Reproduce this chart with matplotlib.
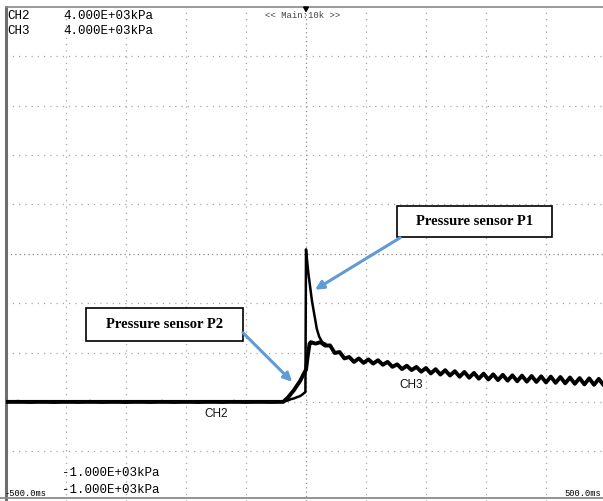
import matplotlib
matplotlib.use("Agg")
import matplotlib.pyplot as plt
from matplotlib.patches import Rectangle, Polygon
from matplotlib.lines import Line2D

# ---------------- data (ms, kPa) ----------------
ch2_t = [-500, -480, -460, -440, -420, -400, -380, -360, -340, -320, -300, -280,
         -260, -240, -220, -200, -180, -160, -140, -120, -100, -80, -60, -40,
         -36, -30, -25, -20, -15, -10, -6, -3, -1, 0, 2, 4, 7, 10, 14, 18, 22, 27, 32]
ch2_v = [0, 8, -6, 7, -8, 6, -5, 8, -7, 6, -8, 7,
         -6, 8, -7, 6, -8, 7, -6, 8, -7, 6, -5, 4,
         5, 15, 28, 35, 48, 58, 75, 90, 100, 1545, 1420, 1300, 1160, 1020, 880, 740, 660, 605, 590]

ch3_t = [-500, -38, -30, -20, -10, -2, 0, 3, 6,
         8, 16, 24, 32, 40, 48, 56, 64, 72, 80, 88, 96, 104, 112, 120, 128, 136,
         144, 152, 160, 168, 176, 184, 192, 200, 208, 216, 224, 232, 240, 248, 256,
         264, 272, 280, 288, 296, 304, 312, 320, 328, 336, 344, 352, 360, 368, 376,
         384, 392, 400, 408, 416, 424, 432, 440, 448, 456, 464, 472, 480, 488, 496, 500]
ch3_v = [0, 0, 45, 120, 210, 305, 325, 470, 590,
         605, 590, 605, 570, 572, 495, 505, 440, 455, 405, 440, 395, 430, 388, 422, 376, 405,
         355, 380, 332, 366, 322, 354, 306, 343, 288, 331, 277, 321, 267, 311, 255,
         303, 245, 293, 235, 286, 227, 279, 221, 274, 215, 269, 209, 266, 205, 262,
         202, 259, 197, 256, 193, 252, 188, 247, 183, 241, 177, 238, 173, 233, 169, 185]

x_min, x_max = -500, 500
y_min, y_max = -1000, 4000
x_grid = [-400, -300, -200, -100, 0, 100, 200, 300, 400]
y_grid = [-500, 0, 500, 1000, 1500, 2000, 2500, 3000, 3500]

W, H = 603, 501
fig = plt.figure(figsize=(W / 100, H / 100), dpi=100)
fig.patch.set_facecolor("white")

# axes spanning px x 6..606, y 7..500.6
ax = fig.add_axes([6 / W, 1 - 500.6 / H, 600 / W, 493.6 / H])
ax.set_xlim(x_min, x_max)
ax.set_ylim(y_min, y_max)
ax.set_xticks([])
ax.set_yticks([])
for s in ["right", "bottom"]:
    ax.spines[s].set_visible(False)
ax.spines["left"].set_color("#6e6e6e")
ax.spines["left"].set_linewidth(2.2)
ax.spines["top"].set_color("#8a8a8a")
ax.spines["top"].set_linewidth(1.2)

gcol = "#a6a6a6"
for xv in x_grid:
    if xv == 0:
        ax.axvline(xv, color="#8a8a8a", lw=0.9, ls=(0, (1, 2.5)), zorder=1)
    else:
        ax.axvline(xv, color=gcol, lw=0.9, ls=(0, (1, 4)), zorder=1)
for yv in y_grid:
    if yv == 1500:
        ax.axhline(yv, color="#8a8a8a", lw=0.9, ls=(0, (1, 2.5)), zorder=1)
    else:
        ax.axhline(yv, color=gcol, lw=0.9, ls=(0, (1, 4)), zorder=1)

# traces
ax.plot(ch3_t, ch3_v, color="black", lw=2.8, solid_joinstyle="round", zorder=3)
ax.plot(ch2_t, ch2_v, color="black", lw=1.8, solid_joinstyle="round", zorder=3)

# trigger marker at top centre
ax.add_patch(Polygon([[-4, 4000], [4, 4000], [0, 3955]], closed=True,
                     color="black", clip_on=False, zorder=5))

# channel labels on traces
ax.text(-150, -120, "CH2", fontsize=8.5, family="Liberation Sans", color="#111111",
        ha="center", va="center", zorder=4)
ax.text(175, 170, "CH3", fontsize=8.5, family="Liberation Sans", color="#111111",
        ha="center", va="center", zorder=4)

# annotation boxes
acol = "#5f9bd6"
ax.add_patch(Rectangle((152, 1673), 258, 315, facecolor="white", edgecolor="black",
                       lw=1.2, zorder=6))
ax.text(281, 1830, "Pressure sensor P1", fontsize=10.5, family="Liberation Serif",
        weight="bold", ha="center", va="center", zorder=7)
ax.add_patch(Rectangle((-367, 615), 262, 335, facecolor="white", edgecolor="black",
                       lw=1.2, zorder=6))
ax.text(-236, 782, "Pressure sensor P2", fontsize=10.5, family="Liberation Serif",
        weight="bold", ha="center", va="center", zorder=7)

ax.annotate("", xy=(15, 1136), xytext=(157, 1663),
            arrowprops=dict(arrowstyle="-|>,head_length=0.5,head_width=0.25",
                            color=acol, lw=2.2, shrinkA=0, shrinkB=0), zorder=6)
ax.annotate("", xy=(-23, 203), xytext=(-105, 700),
            arrowprops=dict(arrowstyle="-|>,head_length=0.5,head_width=0.25",
                            color=acol, lw=2.2, shrinkA=0, shrinkB=0), zorder=6)

# bottom border line
fig.add_artist(Line2D([0, 1], [1 - 497.5 / H, 1 - 497.5 / H], color="#8a8a8a", lw=1.3))

# scope readout texts (pixel positions)
def ftxt(x, y, s, size, color="#000000", ha="left"):
    fig.text(x / W, 1 - y / H, s, fontsize=size, family="Liberation Mono",
             color=color, ha=ha, va="center")

ftxt(7, 16, "CH2", 9)
ftxt(7, 31, "CH3", 9)
ftxt(63, 16, "4.000E+03kPa", 9)
ftxt(63, 31, "4.000E+03kPa", 9)
ftxt(265, 15, "<< Main:10k >>", 6.5, color="#444444")
ftxt(62, 473, "-1.000E+03kPa", 9)
ftxt(62, 490, "-1.000E+03kPa", 9)
ftxt(5, 493, "-500.0ms", 6.3)
ftxt(601, 493, "500.0ms", 6.3, ha="right")

fig.savefig("out.png", dpi=100, facecolor="white")
